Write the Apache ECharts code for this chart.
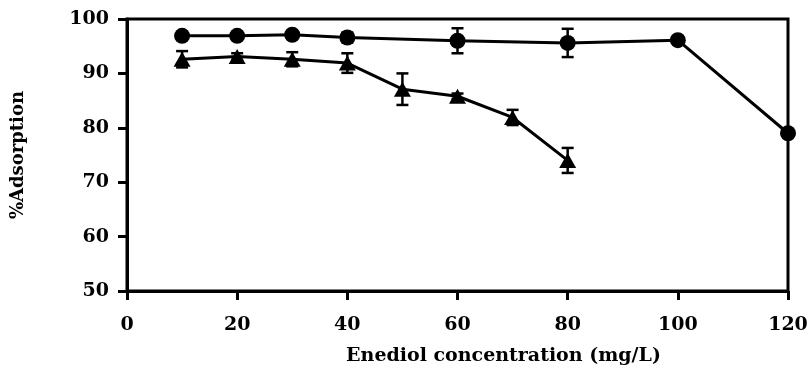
<!DOCTYPE html>
<html><head><meta charset="utf-8">
<script src="https://cdn.jsdelivr.net/npm/echarts@6/dist/echarts.min.js"></script>
<style>html,body{margin:0;padding:0;background:#fff}#c{width:811px;height:373px}</style>
</head><body><div id="c"></div>
<script>
const circleX = [10, 20, 30, 40, 60, 80, 100, 120];
const circleY = [96.9, 96.9, 97.1, 96.6, 96.0, 95.6, 96.1, 79.0];
const circleErr = [0.5, 0.5, 0.5, 0.9, 2.3, 2.6, 0.3, 0.3];
const triX = [10, 20, 30, 40, 50, 60, 70, 80];
const triY = [92.6, 93.1, 92.6, 91.9, 87.1, 85.8, 81.9, 74.0];
const triErr = [1.5, 0.6, 1.3, 1.8, 2.9, 0.5, 1.4, 2.3];
const xTicks = [0, 20, 40, 60, 80, 100, 120];
const yTicks = [50, 60, 70, 80, 90, 100];

const font = 'DejaVu Serif';
function errData(xs, ys, es) { return xs.map((x, i) => [x, ys[i] - es[i], ys[i] + es[i]]); }
function errSeries(data) {
  return {
    type: 'custom', clip: false, z: 3,
    renderItem: function (params, api) {
      const x = api.value(0);
      const lo = api.coord([x, api.value(1)]);
      const hi = api.coord([x, api.value(2)]);
      const w = 6;
      const st = { stroke: '#000', lineWidth: 2.5 };
      return { type: 'group', children: [
        { type: 'line', shape: { x1: lo[0], y1: lo[1], x2: hi[0], y2: hi[1] }, style: st },
        { type: 'line', shape: { x1: lo[0] - w, y1: lo[1], x2: lo[0] + w, y2: lo[1] }, style: st },
        { type: 'line', shape: { x1: hi[0] - w, y1: hi[1], x2: hi[0] + w, y2: hi[1] }, style: st }
      ]};
    },
    data: data
  };
}
const chart = echarts.init(document.getElementById('c'));
chart.setOption({
  animation: false,
  grid: { left: 127, right: 23, top: 19, bottom: 82, show: true, borderColor: '#000', borderWidth: 3 },
  xAxis: {
    type: 'value', min: 0, max: 120, interval: 20,
    name: 'Enediol concentration (mg/L)', nameLocation: 'middle', nameGap: 56,
    nameTextStyle: { fontFamily: font, fontWeight: 'bold', fontSize: 19, color: '#000', padding: [0, 0, 0, 92] },
    axisLine: { show: true, lineStyle: { color: '#000', width: 3 } },
    axisTick: { show: true, inside: false, length: 9, lineStyle: { color: '#000', width: 3 } },
    axisLabel: { margin: 25, fontFamily: font, fontWeight: 'bold', fontSize: 19, color: '#000',
      formatter: v => xTicks.includes(v) ? String(v) : '' },
    splitLine: { show: false }
  },
  yAxis: {
    type: 'value', min: 50, max: 100, interval: 10,
    name: '%Adsorption', nameLocation: 'middle', nameGap: 100,
    nameTextStyle: { fontFamily: font, fontWeight: 'bold', fontSize: 18, color: '#000' },
    axisLine: { show: true, lineStyle: { color: '#000', width: 3 } },
    axisTick: { show: true, inside: false, length: 9, lineStyle: { color: '#000', width: 3 } },
    axisLabel: { margin: 18, fontFamily: font, fontWeight: 'bold', fontSize: 19, color: '#000',
      formatter: v => yTicks.includes(v) ? String(v) : '' },
    splitLine: { show: false }
  },
  series: [
    errSeries(errData(circleX, circleY, circleErr)),
    errSeries(errData(triX, triY, triErr)),
    { type: 'line', clip: false, z: 4, data: circleX.map((x, i) => [x, circleY[i]]),
      symbol: 'circle', symbolSize: 16, itemStyle: { color: '#000' },
      lineStyle: { color: '#000', width: 3 } },
    { type: 'line', clip: false, z: 4, data: triX.map((x, i) => [x, triY[i]]),
      symbol: 'triangle', symbolSize: [17, 15], itemStyle: { color: '#000' },
      lineStyle: { color: '#000', width: 3 } }
  ]
});
</script></body></html>
